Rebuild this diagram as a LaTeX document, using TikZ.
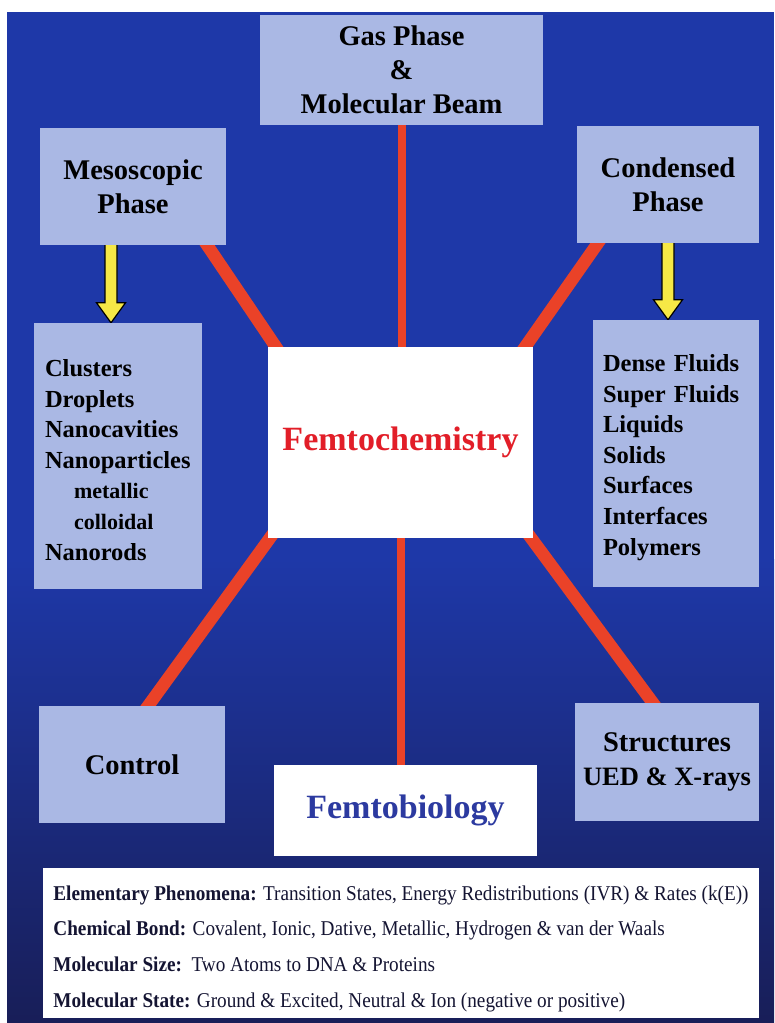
\documentclass[tikz,border=0pt]{standalone}
\usepackage{fontspec}
\usepackage{graphicx}
\setmainfont{Liberation Serif}
\usetikzlibrary{calc}
\pgfdeclarelayer{bg}
\pgfdeclarelayer{links}
\pgfsetlayers{bg,links,main}
\definecolor{bgblue}{RGB}{30,56,168}
\definecolor{bgnavy}{RGB}{24,30,88}
\definecolor{boxblue}{RGB}{170,184,228}
\definecolor{linkred}{RGB}{234,66,40}
\definecolor{femred}{RGB}{226,30,40}
\definecolor{fembl}{RGB}{44,58,160}
\definecolor{arrowyel}{RGB}{246,232,70}
\definecolor{infotext}{RGB}{20,20,50}
\begin{document}
\begin{tikzpicture}[x=1pt,y=-1pt,
  tbox/.style={rectangle, fill=boxblue, inner sep=0pt, align=center,
    font=\bfseries\fontsize{28.5}{34}\selectfont, text=black},
  lbox/.style={rectangle, fill=boxblue, inner ysep=0pt, align=left,
    font=\bfseries\fontsize{24.5}{30.6}\selectfont, text=black},
  wbox/.style={rectangle, fill=white, inner sep=0pt, align=center},
  link/.style={line width=12.5pt, draw=linkred, shorten <=-8pt, shorten >=-8pt},
  vlink/.style={line width=8pt, draw=linkred},
  yarrow/.style={fill=arrowyel, draw=black, line width=1.2pt, line join=miter}
]
\useasboundingbox (0,0) rectangle (774,1023);

% nodes
\node[tbox, minimum width=283pt, minimum height=110pt] (gas) at (401.5,70) {Gas Phase\\\&\\Molecular Beam};
\node[tbox, minimum width=186pt, minimum height=117pt] (meso) at (133,186.5) {Mesoscopic\\Phase};
\node[tbox, minimum width=182pt, minimum height=117pt] (cond) at (668,184.5) {Condensed\\Phase};
\node[lbox, minimum height=266pt, inner xsep=11pt, text width=146pt] (clus) at (118,456)
  {\rule{0pt}{25pt}Clusters\\Droplets\\Nanocavities\\Nanoparticles\\
   {\fontsize{22}{30.6}\selectfont\hspace*{29pt}metallic}\\
   {\fontsize{22}{30.6}\selectfont\hspace*{29pt}colloidal}\\Nanorods};
\node[lbox, minimum height=267pt, inner xsep=10pt, text width=146pt] (dense) at (676,453.5)
  {\rule{0pt}{25pt}Dense Fluids\\Super Fluids\\Liquids\\Solids\\Surfaces\\Interfaces\\Polymers};
\node[wbox, minimum width=265pt, minimum height=191pt,
  font=\bfseries\fontsize{34}{40}\selectfont, text=femred] (femto) at (400.5,442.5) {Femtochemistry};
\node[tbox, minimum width=186pt, minimum height=117pt] (control) at (132,764.5) {Control};
\node[tbox, minimum width=184pt, minimum height=118pt] (struct) at (667,762)
  {Structures\\{\fontsize{26.5}{32}\selectfont UED \& X-rays}};
\node[wbox, minimum width=263pt, minimum height=91pt,
  font=\bfseries\fontsize{34}{40}\selectfont, text=fembl] (fbio) at (405.5,810.5) {Femtobiology};
\node[wbox, minimum width=716pt, minimum height=150pt,
  font=\fontsize{19.5}{33}\selectfont, text=infotext] (info) at (401,943)
  {\scalebox{0.985}[1.08]{\vbox{\baselineskip=33.1pt
   \hbox{\rule{0pt}{24pt}\textbf{Elementary Phenomena:} Transition States, Energy Redistributions (IVR) \& Rates (k(E))}
   \hbox{\textbf{Chemical Bond:} Covalent, Ionic, Dative, Metallic, Hydrogen \& van der Waals}
   \hbox{\textbf{Molecular Size:}\ \ Two Atoms to DNA \& Proteins}
   \hbox{\textbf{Molecular State:} Ground \& Excited, Neutral \& Ion (negative or positive)}}}};

% background
\begin{pgfonlayer}{bg}
\fill[white] (0,0) rectangle (774,1023);
\fill[bgblue] (7,12) rectangle (774,560);
\shade[top color=bgblue, bottom color=bgnavy] (7,559) rectangle (774,1023);
\end{pgfonlayer}

% connectors
\begin{pgfonlayer}{links}
\draw[vlink] (gas.south) -- (gas.south |- femto.north);
\draw[vlink] (femto.south) -- (femto.south |- fbio.north);
\draw[link] ($(meso.south east)+(-19,0)$) -- ($(femto.north west)+(8,0)$);
\draw[link] ($(cond.south west)+(21,0)$) -- ($(femto.north east)+(-8,0)$);
\draw[link] ($(femto.south west)+(2,0)$) -- ($(control.north east)+(-77,0)$);
\draw[link] ($(femto.south east)+(-2,0)$) -- ($(struct.north west)+(78,0)$);
\coordinate (la) at ($(meso.south)+(-22,-2)$);
\coordinate (lb) at ($(clus.north)+(-7,0)$);
\coordinate (ra) at ($(cond.south)+(0,-2)$);
\coordinate (rb) at ($(dense.north)+(-8,0)$);
\draw[yarrow] ($(la)+(-6,0)$) -- ($(lb)+(-6,-20)$) -- ($(lb)+(-14.5,-20)$) -- (lb)
  -- ($(lb)+(14.5,-20)$) -- ($(lb)+(6,-20)$) -- ($(la)+(6,0)$) -- cycle;
\draw[yarrow] ($(ra)+(-6,0)$) -- ($(rb)+(-6,-20)$) -- ($(rb)+(-14.5,-20)$) -- (rb)
  -- ($(rb)+(14.5,-20)$) -- ($(rb)+(6,-20)$) -- ($(ra)+(6,0)$) -- cycle;
\end{pgfonlayer}
\end{tikzpicture}
\end{document}
